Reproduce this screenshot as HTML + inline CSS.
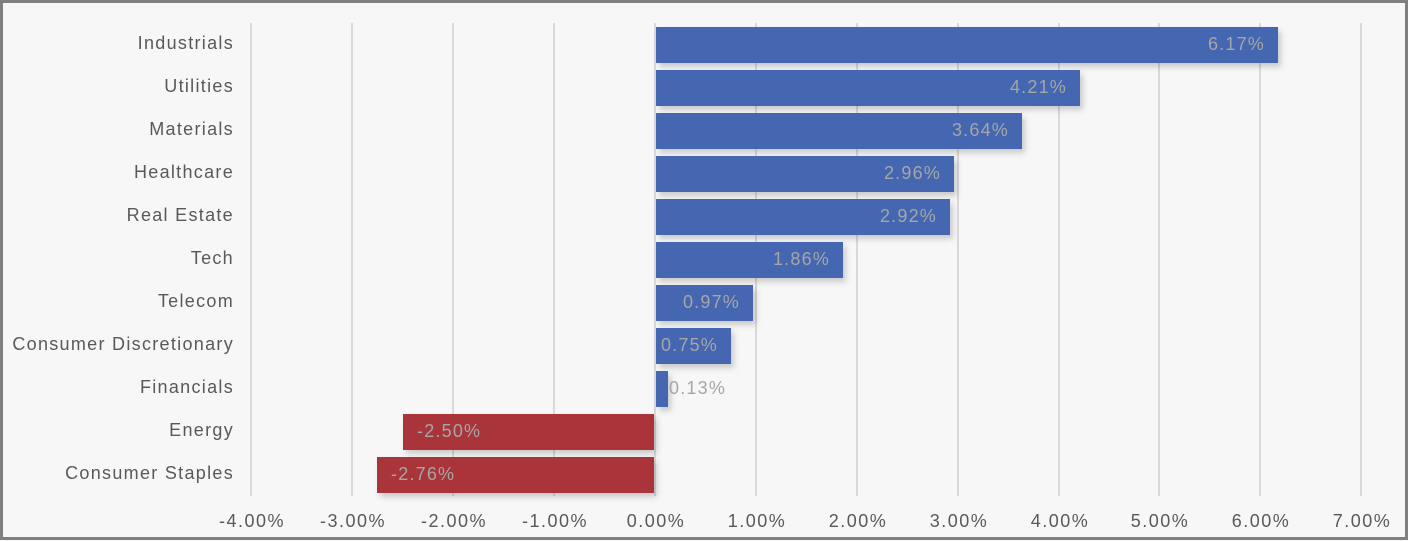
<!DOCTYPE html>
<html><head><meta charset="utf-8"><style>
html,body{margin:0;padding:0;background:#f7f7f7}
svg{display:block}
text{font-family:"Liberation Sans",sans-serif}
</style></head><body>
<svg width="1408" height="541" viewBox="0 0 1408 541" xmlns="http://www.w3.org/2000/svg">
<defs><filter id="sh" x="-10%" y="-30%" width="130%" height="180%"><feDropShadow dx="3" dy="4" stdDeviation="3" flood-color="#000" flood-opacity="0.18"/></filter></defs>
<rect x="0" y="0" width="1408" height="541" fill="#f7f7f7"/>
<rect x="1.5" y="1.5" width="1405" height="537" fill="none" stroke="#7f7f7f" stroke-width="3"/>
<g stroke="#d9d9d9" stroke-width="2">
<line x1="251" y1="23" x2="251" y2="496"/><line x1="352" y1="23" x2="352" y2="496"/><line x1="453" y1="23" x2="453" y2="496"/><line x1="554" y1="23" x2="554" y2="496"/><line x1="655" y1="23" x2="655" y2="496"/><line x1="756" y1="23" x2="756" y2="496"/><line x1="857" y1="23" x2="857" y2="496"/><line x1="958" y1="23" x2="958" y2="496"/><line x1="1059" y1="23" x2="1059" y2="496"/><line x1="1159" y1="23" x2="1159" y2="496"/><line x1="1260" y1="23" x2="1260" y2="496"/><line x1="1361" y1="23" x2="1361" y2="496"/>
</g>
<g filter="url(#sh)">
<rect x="656" y="27" width="622" height="36" fill="#4466b0"/>
<rect x="656" y="70" width="424" height="36" fill="#4466b0"/>
<rect x="656" y="113" width="366" height="36" fill="#4466b0"/>
<rect x="656" y="156" width="298" height="36" fill="#4466b0"/>
<rect x="656" y="199" width="294" height="36" fill="#4466b0"/>
<rect x="656" y="242" width="187" height="36" fill="#4466b0"/>
<rect x="656" y="285" width="97" height="36" fill="#4466b0"/>
<rect x="656" y="328" width="75" height="36" fill="#4466b0"/>
<rect x="656" y="371" width="12" height="36" fill="#4466b0"/>
<rect x="403" y="414" width="251" height="36" fill="#a9343a"/>
<rect x="377" y="457" width="277" height="36" fill="#a9343a"/>
</g>
<g font-size="18" fill="#a6a6a6" text-anchor="end" letter-spacing="1.2">
<text x="1265" y="50">6.17%</text>
<text x="1067" y="93">4.21%</text>
<text x="1009" y="136">3.64%</text>
<text x="941" y="179">2.96%</text>
<text x="937" y="222">2.92%</text>
<text x="830" y="265">1.86%</text>
<text x="740" y="308">0.97%</text>
<text x="718" y="351">0.75%</text>
</g>
<g font-size="18" fill="#a6a6a6" letter-spacing="1.2">
<text x="669" y="394">0.13%</text>
<text x="417" y="437">-2.50%</text>
<text x="391" y="480">-2.76%</text>
</g>
<g font-size="18" fill="#595959" text-anchor="end" letter-spacing="1.3">
<text x="234" y="49">Industrials</text>
<text x="234" y="92">Utilities</text>
<text x="234" y="135">Materials</text>
<text x="234" y="178">Healthcare</text>
<text x="234" y="221">Real Estate</text>
<text x="234" y="264">Tech</text>
<text x="234" y="307">Telecom</text>
<text x="234" y="350">Consumer Discretionary</text>
<text x="234" y="393">Financials</text>
<text x="234" y="436">Energy</text>
<text x="234" y="479">Consumer Staples</text>
</g>
<g font-size="18" fill="#595959" text-anchor="middle" letter-spacing="1.5">
<text x="252" y="527">-4.00%</text><text x="353" y="527">-3.00%</text><text x="454" y="527">-2.00%</text><text x="555" y="527">-1.00%</text><text x="656" y="527">0.00%</text><text x="757" y="527">1.00%</text><text x="858" y="527">2.00%</text><text x="959" y="527">3.00%</text><text x="1060" y="527">4.00%</text><text x="1160" y="527">5.00%</text><text x="1261" y="527">6.00%</text><text x="1362" y="527">7.00%</text>
</g>
</svg>
</body></html>
